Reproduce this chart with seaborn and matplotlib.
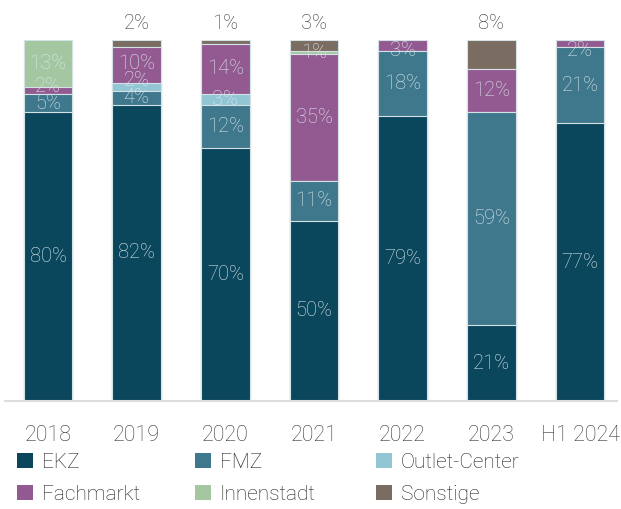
import matplotlib
matplotlib.use("Agg")
import matplotlib.pyplot as plt
from matplotlib.patches import Patch
import numpy as np
import pandas as pd
import seaborn as sns

years = ["2018", "2019", "2020", "2021", "2022", "2023", "H1 2024"]
segments = ["EKZ", "FMZ", "Outlet-Center", "Fachmarkt", "Innenstadt", "Sonstige"]

ekz = [80, 82, 70, 50, 79, 21, 77]
fmz = [5, 4, 12, 11, 18, 59, 21]
outlet = [0, 2, 3, 0, 0, 0, 0]
fachmarkt = [2, 10, 14, 35, 3, 12, 2]
innenstadt = [13, 0, 0, 1, 0, 0, 0]
sonstige = [0, 2, 1, 3, 0, 8, 0]

colors = ["#0b475c", "#3f788c", "#93c6d5", "#935a91", "#a4c7a2", "#7a6c60"]

shares = pd.DataFrame(
    {"EKZ": ekz, "FMZ": fmz, "Outlet-Center": outlet, "Fachmarkt": fachmarkt,
     "Innenstadt": innenstadt, "Sonstige": sonstige},
    index=years,
)
tops = shares.cumsum(axis=1)

sns.set_theme(style="white")
plt.rcParams["font.family"] = ["Roboto", "DejaVu Sans"]

fig = plt.figure(figsize=(6.21, 5.09), dpi=100)
ax = fig.add_axes([5 / 621, 1 - 401 / 509, 612 / 621, (401 - 40) / 509])

# stacked bars: draw cumulative heights from the top segment downwards
for seg, col in reversed(list(zip(segments, colors))):
    sns.barplot(x=years, y=tops[seg].values, color=col, width=0.55,
                edgecolor="#d4e2e6", linewidth=0.8, saturation=1, ax=ax)

ax.set_xlim(-0.485, 6.417)
ax.set_ylim(0, 100)

label_kw = dict(ha="center", va="center", fontsize=14.5, fontweight="light", zorder=10)
min_gap = 4.7  # vertical spacing between stacked labels, in percent units
for i, yr in enumerate(years):
    prev_y = -np.inf
    for seg in segments:
        val = shares.loc[yr, seg]
        if val == 0:
            continue
        top = tops.loc[yr, seg]
        if seg == "Sonstige":
            ax.annotate(f"{val}%", (i, 100), xytext=(0, 12), textcoords="offset points",
                        color="#33383d", annotation_clip=False, **label_kw)
        else:
            y = max(top - val / 2, prev_y + min_gap)
            y = min(y, 97)
            prev_y = y
            ax.text(i, y, f"{val}%", color="#dbe7eb", **label_kw)

for s in ["top", "right", "left"]:
    ax.spines[s].set_visible(False)
ax.spines["bottom"].set_color("#dddddd")
ax.spines["bottom"].set_linewidth(1.5)
ax.set_yticks([])
ax.set_ylabel("")
ax.tick_params(axis="x", length=0, pad=17, labelsize=15.5, labelcolor="#33383d")
for t in ax.get_xticklabels():
    t.set_fontweight("light")

# legend: three columns of two entries each
columns = [[0, 3], [1, 4], [2, 5]]
col_x = [17, 195, 376]
for xs, idx in zip(col_x, columns):
    handles = [Patch(facecolor=colors[k], edgecolor="none") for k in idx]
    labels = [segments[k] for k in idx]
    leg = fig.legend(handles, labels, ncol=1, loc="upper left",
                     bbox_to_anchor=(xs / 621, 1 - 453 / 509), frameon=False,
                     borderpad=0, borderaxespad=0,
                     handlelength=0.75, handleheight=0.75, handletextpad=0.45,
                     labelspacing=0.6, prop={"size": 15, "weight": "light"})
    for t in leg.get_texts():
        t.set_color("#1e1e1e")

fig.savefig("out.png", dpi=100)
